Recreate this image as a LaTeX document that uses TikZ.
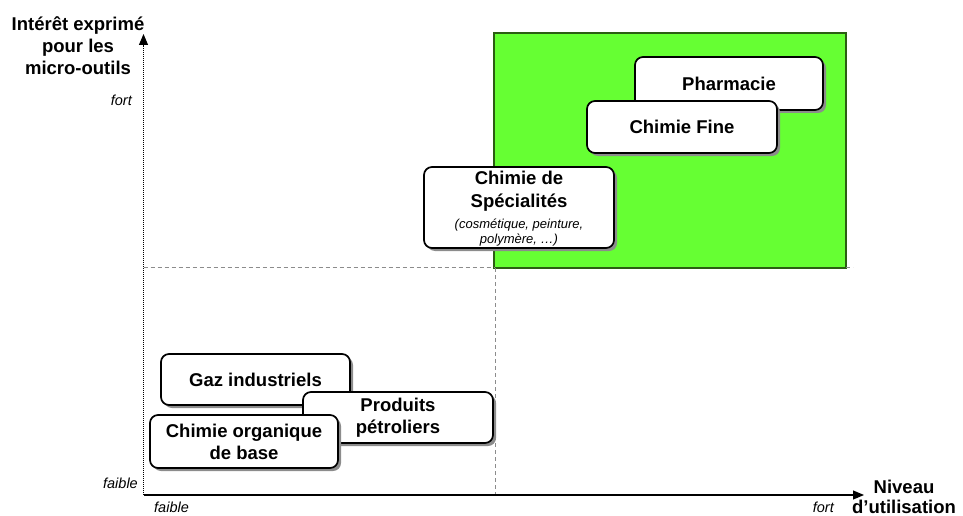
\documentclass[tikz,border=0pt]{standalone}
\usepackage{fontspec}
\setmainfont{Liberation Sans}
\usetikzlibrary{shadows,arrows.meta}
\definecolor{zonegreen}{HTML}{66FF33}
\definecolor{zoneedge}{HTML}{2B5E12}
\newcommand{\subnote}{\mdseries\itshape\fontsize{13}{15}\selectfont}
\begin{document}
\begin{tikzpicture}[x=1pt,y=-1pt,
  sector/.style={draw=black, line width=1.7pt, rounded corners=8pt, fill=white,
    drop shadow={shadow xshift=3pt, shadow yshift=-3pt, fill=black!45, opacity=1},
    align=center, inner sep=0pt, font=\bfseries\fontsize{18.5}{22}\selectfont},
  guide/.style={draw=black!45, line width=0.9pt, dash pattern=on 4pt off 3pt},
  axis/.style={draw=black, line width=1.1pt, -{Triangle[length=11pt,width=9pt]}},
  lbl/.style={font=\bfseries\fontsize{18.5}{22}\selectfont, align=center, inner sep=0pt},
  tick/.style={font=\itshape\fontsize{14.5}{16}\selectfont, inner sep=0pt}]
\useasboundingbox (0,0) rectangle (963,516);

% target zone: high interest, high usage
\fill[zonegreen, draw=zoneedge, line width=1.2pt] (494,33) rectangle (846,268);

% quadrant guides
\coordinate (hL) at (143.5,267);
\coordinate (hR) at (853,267);
\coordinate (vT) at (495,268);
\coordinate (vB) at (495,495);
\draw[guide] (hL) -- (494,267);
\draw[guide] (846,267) -- (hR);
\draw[guide] (vT) -- (vB);

% axes
\coordinate (O) at (143.5,495);
\coordinate (yEnd) at (143.5,34);
\coordinate (xEnd) at (864,495);
\draw[axis, dash pattern=on 1.1pt off 0.9pt] (O) -- (yEnd);
\draw[axis] (O) -- (xEnd);

% axis titles (base anchor sits on the last line)
\node[lbl, anchor=base] (ytitle) at (78,75)
  {Intérêt exprimé\\pour les\\micro-outils};
\node[lbl, anchor=base] (xtitle) at (904,513)
  {Niveau\\[-2pt]d’utilisation};

% scale marks
\node[tick, anchor=base east] (yhigh) at (132,106) {fort};
\node[tick, anchor=base east] (ylow) at (138,488) {faible};
\node[tick, anchor=base west] (xlow) at (154,512) {faible};
\node[tick, anchor=base east] (xhigh) at (834,512) {fort};

% sectors
\node[sector, minimum width=188pt, minimum height=53pt] (pharma) at (729,83.5) {Pharmacie};
\node[sector, minimum width=190pt, minimum height=52pt] (fine) at (682,127) {Chimie Fine};
\node[sector, minimum width=190pt, minimum height=81pt] (spec) at (519,207.5) {};
\node[lbl, anchor=base] (spectext) at (519,243.5)
  {Chimie de\\[1pt]Spécialités\\[-1pt]
   {\subnote (cosmétique, peinture,}\\[-7pt]
   {\subnote polymère, …)}};

\node[sector, minimum width=189pt, minimum height=51pt] (gaz) at (255.5,379.5) {Gaz industriels};
\node[sector, minimum width=190pt, minimum height=51pt] (petro) at (398,417.5) {Produits\\pétroliers};
\node[sector, minimum width=188pt, minimum height=53pt] (orga) at (244,441.5) {Chimie organique\\de base};
\end{tikzpicture}
\end{document}
